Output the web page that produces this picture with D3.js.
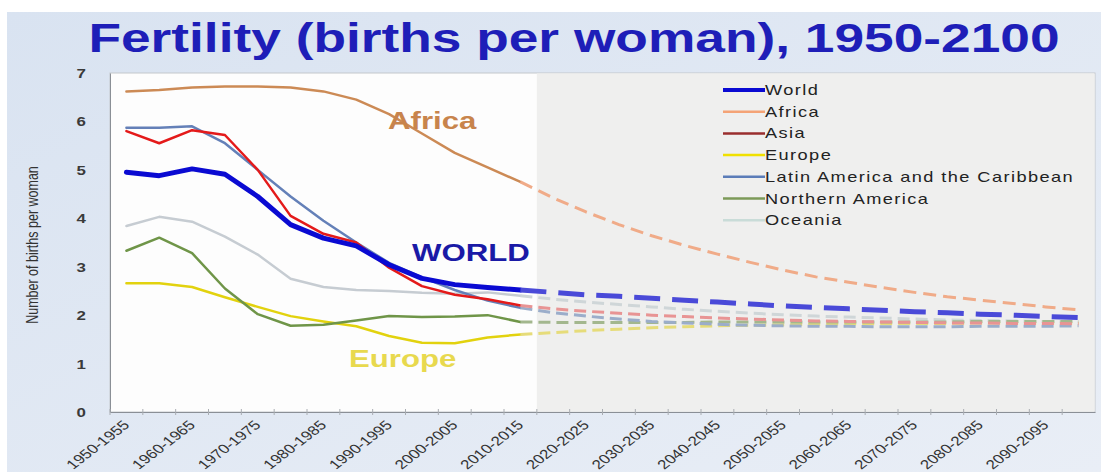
<!DOCTYPE html>
<html><head><meta charset="utf-8">
<script src="https://cdn.jsdelivr.net/npm/d3@7"></script>
<style>
html,body{margin:0;padding:0;background:#fff;}
svg{display:block;font-family:"Liberation Sans",Arial,sans-serif;}
</style></head>
<body>
<svg id="c" width="1101" height="472"></svg>
<script>
const periods = ["1950-1955","1955-1960","1960-1965","1965-1970","1970-1975","1975-1980","1980-1985","1985-1990","1990-1995","1995-2000","2000-2005","2005-2010","2010-2015","2015-2020","2020-2025","2025-2030","2030-2035","2035-2040","2040-2045","2045-2050","2050-2055","2055-2060","2060-2065","2065-2070","2070-2075","2075-2080","2080-2085","2085-2090","2090-2095","2095-2100"];
const tickLabels = ["1950-1955","1960-1965","1970-1975","1980-1985","1990-1995","2000-2005","2010-2015","2020-2025","2030-2035","2040-2045","2050-2055","2060-2065","2070-2075","2080-2085","2090-2095"];
const yTicks = [0,1,2,3,4,5,6,7];
const lastEstimate = "2010-2015";

const world    = [4.95,4.88,5.02,4.91,4.45,3.87,3.59,3.43,3.04,2.76,2.63,2.57,2.52,2.47,2.42,2.39,2.35,2.31,2.27,2.23,2.19,2.16,2.13,2.10,2.07,2.05,2.02,2.00,1.97,1.95];
const africa   = [6.62,6.65,6.70,6.72,6.72,6.70,6.62,6.45,6.15,5.75,5.35,5.05,4.75,4.42,4.13,3.87,3.64,3.44,3.26,3.09,2.93,2.79,2.68,2.57,2.47,2.38,2.31,2.24,2.17,2.11];
const asia     = [5.80,5.55,5.82,5.72,5.00,4.05,3.68,3.50,2.98,2.60,2.42,2.33,2.20,2.13,2.08,2.04,2.00,1.97,1.94,1.92,1.90,1.88,1.87,1.86,1.85,1.84,1.84,1.83,1.83,1.82];
const europe   = [2.66,2.66,2.58,2.37,2.17,1.98,1.87,1.77,1.57,1.43,1.42,1.54,1.60,1.64,1.68,1.71,1.74,1.76,1.78,1.79,1.80,1.81,1.82,1.82,1.83,1.83,1.84,1.84,1.84,1.84];
const latam    = [5.87,5.87,5.90,5.55,5.00,4.45,3.95,3.50,3.08,2.78,2.52,2.30,2.15,2.05,1.98,1.92,1.87,1.84,1.81,1.79,1.78,1.77,1.77,1.76,1.76,1.76,1.77,1.77,1.77,1.78];
const northAm  = [3.33,3.60,3.28,2.55,2.02,1.78,1.80,1.89,1.98,1.96,1.97,2.00,1.86,1.85,1.85,1.85,1.85,1.85,1.86,1.86,1.86,1.86,1.86,1.86,1.86,1.86,1.87,1.87,1.87,1.87];
const oceania  = [3.84,4.03,3.93,3.62,3.25,2.75,2.58,2.52,2.50,2.46,2.44,2.47,2.40,2.33,2.27,2.22,2.17,2.12,2.08,2.04,2.01,1.98,1.96,1.94,1.92,1.90,1.89,1.88,1.87,1.86];

const legendNames = ["World","Africa","Asia","Europe","Latin America and the Caribbean","Northern America","Oceania"];

const SX = 1.3; // horizontal stretch seen in the picture
const svg = d3.select("#c");
const W = 1101, H = 472;
const L = 110, R = 1095, T = 73, B = 412;

// background
const defs = svg.append("defs");
const grad = defs.append("linearGradient").attr("id","bg").attr("x1","0").attr("y1","0").attr("x2","1").attr("y2","1");
grad.append("stop").attr("offset","0").attr("stop-color","#d9e3f1");
grad.append("stop").attr("offset","1").attr("stop-color","#e9eef6");
svg.append("rect").attr("width",W).attr("height",H).attr("fill","#ffffff");
svg.append("rect").attr("x",7).attr("y",12).attr("width",W-7).attr("height",H-12).attr("fill","url(#bg)");

const x = d3.scaleBand().domain(periods).range([L,R]).paddingInner(0).paddingOuter(0);
const xc = d => x(d) + x.bandwidth()/2;
const y = d3.scaleLinear().domain([0,7]).range([B,T]);

// plot area
svg.append("rect").attr("x",L).attr("y",T).attr("width",R-L).attr("height",B-T)
  .attr("fill","#fdfdfd").attr("stroke","#c4c8cc").attr("stroke-width",1);
const projStart = x(periods[periods.indexOf(lastEstimate)+1]);
svg.append("rect").attr("x",projStart).attr("y",T+0.5).attr("width",R-projStart-0.5).attr("height",B-T-1)
  .attr("fill","#efefee");

// axes
const yAxis = d3.axisLeft(y).tickValues(yTicks).tickSize(0).tickPadding(0).tickFormat(d3.format("d"));
const gy = svg.append("g").attr("transform",`translate(${L},0)`).call(yAxis);
gy.select(".domain").attr("stroke","#8a8f96");
gy.selectAll("text").attr("x",0).attr("dy","0.35em")
  .attr("transform","translate(-24,0) scale(1.3,1)")
  .style("font-size","13px").style("font-weight","bold").attr("fill","#3a3a3a")
  .style("font-family","'Liberation Sans',Arial,sans-serif").style("text-anchor","end");

const xAxis = d3.axisBottom(x).tickValues(tickLabels).tickSize(0).tickPadding(0);
const gx = svg.append("g").attr("transform",`translate(0,${B})`).call(xAxis);
gx.select(".domain").attr("stroke","#8a8f96");
gx.selectAll("text").attr("x",0).attr("y",0).attr("dy","0")
  .attr("transform",`translate(4,14) scale(${SX},1) rotate(-45)`)
  .style("text-anchor","end").style("font-size","13px").attr("fill","#333")
  .style("font-family","'Liberation Sans',Arial,sans-serif");
// category boundary ticks
svg.append("g").selectAll("line").data(periods).join("line")
  .attr("x1",d=>x(d)).attr("x2",d=>x(d)).attr("y1",B-3).attr("y2",B+3)
  .attr("stroke","#a9adb2").attr("stroke-width",1);

// y axis title
svg.append("text").attr("transform",`translate(38,245) scale(${SX},1) rotate(-90)`)
  .attr("text-anchor","middle").style("font-size","12.5px").attr("fill","#333")
  .text("Number of births per woman");

// title
svg.append("text").attr("transform",`translate(574,52) scale(${SX},1)`)
  .attr("text-anchor","middle").style("font-size","41px").style("font-weight","bold")
  .attr("fill","#1e1eb8").text("Fertility (births per woman), 1950-2100");

// series
const series = [
  {name:"Oceania", v:oceania, c:"#c6ccd2", dc:"#cfd6d8", w:2.5, dw:3, dash:"12,6"},
  {name:"Europe", v:europe, c:"#e2d20e", dc:"#e6dc7a", w:2.5, dw:3, dash:"12,6"},
  {name:"Northern America", v:northAm, c:"#6f9548", dc:"#a3b78e", w:2.5, dw:3, dash:"12,6"},
  {name:"Latin America and the Caribbean", v:latam, c:"#6480b8", dc:"#9badca", w:2.5, dw:3, dash:"12,6"},
  {name:"Asia", v:asia, c:"#e41a1a", dc:"#e89494", w:2.5, dw:3, dash:"12,6"},
  {name:"Africa", v:africa, c:"#cc8a55", dc:"#f0ab88", w:2.5, dw:3, dash:"13,7"},
  {name:"World", v:world, c:"#0a0ad2", dc:"#4a4ad8", w:5, dw:5, dash:"26,12"}
];
const line = d3.line().x(d=>xc(d.p)).y(d=>y(d.v));
const cut = periods.indexOf(lastEstimate);
series.forEach(s => {
  const pts = periods.map((p,i)=>({p, v:s.v[i]}));
  svg.append("path").datum(pts.slice(0,cut+1)).attr("d",line)
    .attr("fill","none").attr("stroke",s.c).attr("stroke-width",s.w)
    .attr("stroke-linejoin","round").attr("stroke-linecap","round");
  svg.append("path").datum(pts.slice(cut)).attr("d",line)
    .attr("fill","none").attr("stroke",s.dc).attr("stroke-width",s.dw)
    .attr("stroke-dasharray",s.dash).attr("stroke-linejoin","round");
});

// annotations
const ann = [
  {t:"Africa", x:388, y:129, c:"#c8844c"},
  {t:"WORLD", x:412, y:261, c:"#1a1aa6"},
  {t:"Europe", x:349, y:367, c:"#e8d94e"}
];
svg.append("g").selectAll("text").data(ann).join("text")
  .attr("transform",d=>`translate(${d.x},${d.y}) scale(${SX},1)`)
  .style("font-size","24px").style("font-weight","bold").attr("fill",d=>d.c).text(d=>d.t);

// legend
const legendColors = ["#0a0ad2","#f4a376","#9a2e2e","#f0e000","#5b7cb8","#7c9a58","#c9dcd8"];
const legendW = [4,2.5,2.5,2.5,2.5,2.5,2.5];
const lg = svg.append("g");
const ly = i => 90 + i*21.7;
lg.selectAll("line").data(legendNames).join("line")
  .attr("x1",723).attr("x2",765).attr("y1",(d,i)=>ly(i)).attr("y2",(d,i)=>ly(i))
  .attr("stroke",(d,i)=>legendColors[i]).attr("stroke-width",(d,i)=>legendW[i]);
lg.selectAll("text").data(legendNames).join("text")
  .attr("transform",(d,i)=>`translate(765,${ly(i)+5}) scale(${SX},1)`)
  .style("font-size","14px").style("letter-spacing","1.1px").attr("fill","#222").text(d=>d);
</script>
</body></html>
